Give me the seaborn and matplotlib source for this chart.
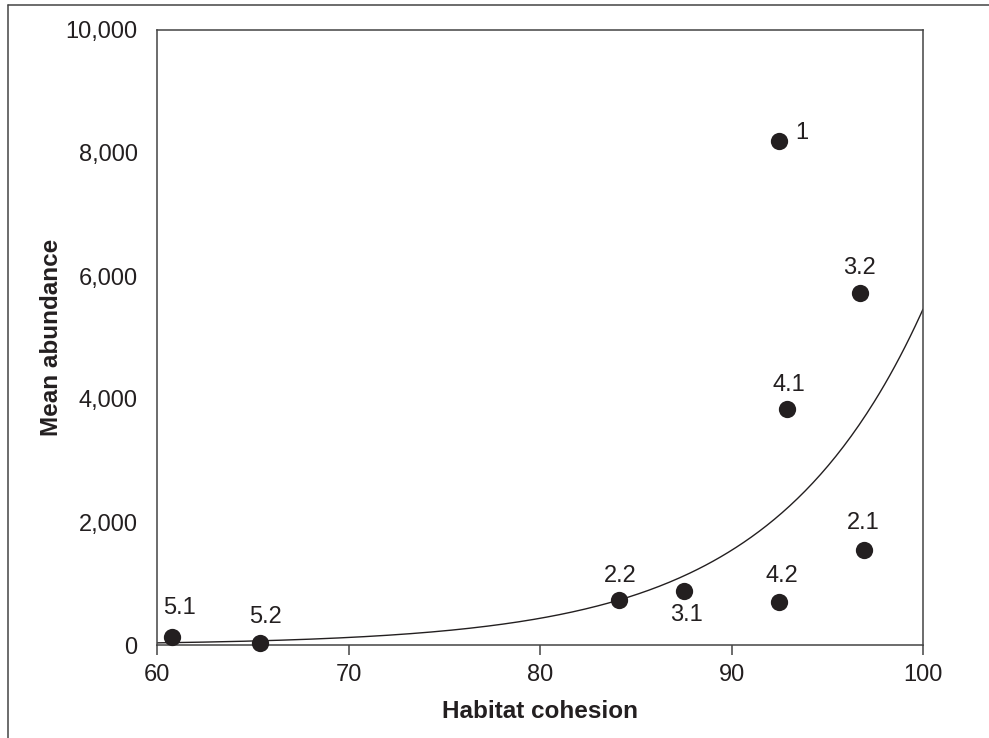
import numpy as np
import pandas as pd
import matplotlib
matplotlib.use("Agg")
import matplotlib.pyplot as plt
from matplotlib.lines import Line2D
from matplotlib.ticker import FuncFormatter
import seaborn as sns

# ---- data ----
site_labels = ["1", "3.2", "4.1", "2.1", "4.2", "3.1", "2.2", "5.2", "5.1"]
habitat_cohesion = [92.5, 96.7, 92.9, 96.9, 92.5, 87.5, 84.1, 65.4, 60.8]
mean_abundance = [8200, 5730, 3830, 1540, 700, 870, 730, 40, 130]

# fitted exponential curve: y = fit_a * exp(fit_b * (x - 100))
fit_a = 5460.0
fit_b = 0.1266
fit_x_range = [60, 100]

x_ticks = [60, 70, 80, 90, 100]
y_ticks = [0, 2000, 4000, 6000, 8000, 10000]

# label offsets (pixels) for each point label
label_offsets = {"1": (22, 8), "3.2": (0, 25), "4.1": (2, 24), "2.1": (0, 27),
                 "4.2": (2, 26), "3.1": (3, -24), "2.2": (2, 24), "5.2": (5, 26),
                 "5.1": (7, 29)}

df = pd.DataFrame({"site": site_labels, "x": habitat_cohesion, "y": mean_abundance})
xs = np.linspace(fit_x_range[0], fit_x_range[1], 300)
curve = pd.DataFrame({"x": xs, "y": fit_a * np.exp(fit_b * (xs - 100))})

sns.set_theme(style="white")
plt.rcParams["font.family"] = ["Liberation Sans", "DejaVu Sans"]
ink = "#231f20"

fig = plt.figure(figsize=(9.89, 7.38), dpi=100)
ax = fig.add_axes([157 / 989, 1 - 645 / 738, (923 - 157) / 989, (645 - 30) / 738])

sns.lineplot(data=curve, x="x", y="y", ax=ax, color=ink, linewidth=1.0, zorder=2)
sns.scatterplot(data=df, x="x", y="y", ax=ax, color=ink, s=155, edgecolor=ink,
                linewidth=0, zorder=3, clip_on=False)

for s, xv, yv in zip(site_labels, habitat_cohesion, mean_abundance):
    dx, dy = label_offsets[s]
    ax.annotate(s, (xv, yv), xytext=(dx, dy), textcoords="offset pixels",
                ha="center", va="center", fontsize=17, color=ink)

ax.set_xlim(60, 100)
ax.set_ylim(0, 10000)
ax.set_xticks(x_ticks)
ax.set_yticks(y_ticks)
ax.yaxis.set_major_formatter(FuncFormatter(lambda v, p: f"{int(v):,}"))
ax.tick_params(axis="x", direction="out", length=7, width=1.1, color="#444444",
               labelsize=17, labelcolor=ink, pad=7, bottom=True)
ax.tick_params(axis="y", length=0, labelsize=17, labelcolor=ink, pad=14, left=False)

for sp in ax.spines.values():
    sp.set_visible(True)
    sp.set_color("#444444")
    sp.set_linewidth(1.1)

ax.set_xlabel("Habitat cohesion", fontsize=17.5, fontweight="bold", color=ink, labelpad=10)
ax.set_ylabel("Mean abundance", fontsize=17.5, fontweight="bold", color=ink, labelpad=2)

# outer frame lines (left and top) of the figure
fig.add_artist(Line2D([8 / 989, 8 / 989], [0, 1 - 5 / 738], transform=fig.transFigure,
                      color="#444444", linewidth=1.1))
fig.add_artist(Line2D([8 / 989, 1], [1 - 5 / 738, 1 - 5 / 738], transform=fig.transFigure,
                      color="#444444", linewidth=1.1))

fig.savefig("out.png", dpi=100)
